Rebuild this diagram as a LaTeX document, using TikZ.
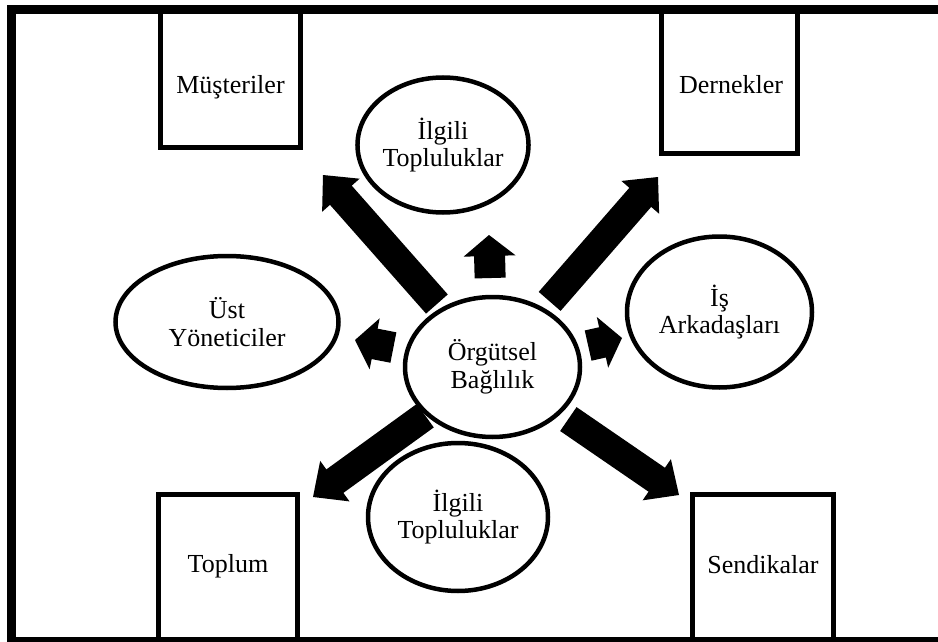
\documentclass[tikz,border=0pt]{standalone}
\usepackage{fontspec}
\setmainfont{Liberation Serif}
\usetikzlibrary{calc,shapes.geometric,backgrounds}

\newcommand\diagfont{\fontsize{26}{27.5}\selectfont}

% Solid block arrow: #1 origin, #2 tip, #3 gap between origin and tail,
% #4 half shaft width, #5 half head width, #6 head length
\newcommand\blockarrow[6]{%
  \path ($(#1)!#3!(#2)$) coordinate (ba-tail)
        ($(#2)!#6!(#1)$) coordinate (ba-neck);
  \fill ($(ba-tail)!#4!90:(#2)$) -- ($(ba-neck)!#4!90:(#2)$)
     -- ($(ba-neck)!#5!90:(#2)$) -- (#2)
     -- ($(ba-neck)!#5!-90:(#2)$) -- ($(ba-neck)!#4!-90:(#2)$)
     -- ($(ba-tail)!#4!-90:(#2)$) -- cycle;
}

\tikzset{
  frame/.style={line width=9pt, line join=miter},
  box/.style={draw, line width=5pt, rectangle, inner sep=0pt},
  oval/.style={draw, line width=4.5pt, ellipse, fill=white, inner sep=0pt,
               align=center, font=\diagfont},
  txt/.style={inner sep=0pt, font=\diagfont},
}

\begin{document}
\begin{tikzpicture}[x=1pt, y=-1pt]
\useasboundingbox (0,0) rectangle (938,642);

% outer frame (open on the right)
\draw[frame] (945,641.5) -- (11.5,641.5) -- (11.5,9.5) -- (945,9.5);

% corner boxes
\node[box, minimum width=140pt, minimum height=137.5pt] (mus) at (230.5,78.75) {};
\node[txt, anchor=base] (musT) at (230.5,93) {Müşteriler};
\node[box, minimum width=135.5pt, minimum height=143.5pt] (der) at (729.25,81.75) {};
\node[txt, anchor=base] (derT) at (731,93) {Dernekler};
\node[box, minimum width=139.5pt, minimum height=146pt] (top) at (227.75,567) {};
\node[txt, anchor=base] (topT) at (228,572) {Toplum};
\node[box, minimum width=141.5pt, minimum height=146pt] (sen) at (762.75,567) {};
\node[txt, anchor=base] (senT) at (763,573) {Sendikalar};

% ellipses
\node[oval, minimum width=140pt, minimum height=135pt] (ilg1) at (443,145) {İlgili\\Topluluklar};
\node[oval, minimum width=223pt, minimum height=132pt] (ust) at (227,322) {Üst\\Yöneticiler};
\node[oval, minimum width=185pt, minimum height=151pt] (isa) at (719.5,312) {İş\\Arkadaşları};
\node[oval, minimum width=180pt, minimum height=148pt] (ilg2) at (458,517) {İlgili\\Topluluklar};
\node[oval, minimum width=175pt, minimum height=140pt] (obl) at (492.5,367) {Örgütsel\\Bağlılık};

% arrow tips
\coordinate (tUL) at (323,175);
\coordinate (tUR) at (658,177);
\coordinate (tLL) at (313,497);
\coordinate (tLR) at (679,495);
\coordinate (tU)  at (489,235);
\coordinate (tL)  at (355,340);
\coordinate (tR)  at (622,338);

\begin{scope}[on background layer]
  \fill[white] (-10,-10) rectangle (950,652);
  \blockarrow{obl}{tUL}{84pt}{14.5pt}{25pt}{27pt}
  \blockarrow{obl}{tUR}{87pt}{14.5pt}{25pt}{27pt}
  \blockarrow{obl}{tLL}{83pt}{14.5pt}{25pt}{27pt}
  \blockarrow{obl}{tLR}{92pt}{14.5pt}{25pt}{27pt}
  \blockarrow{obl}{tU}{89pt}{15.5pt}{26pt}{21pt}
  \blockarrow{obl}{tL}{101pt}{15.5pt}{26pt}{20pt}
  \blockarrow{obl}{tR}{98pt}{15.5pt}{26pt}{20pt}
\end{scope}
\end{tikzpicture}
\end{document}
